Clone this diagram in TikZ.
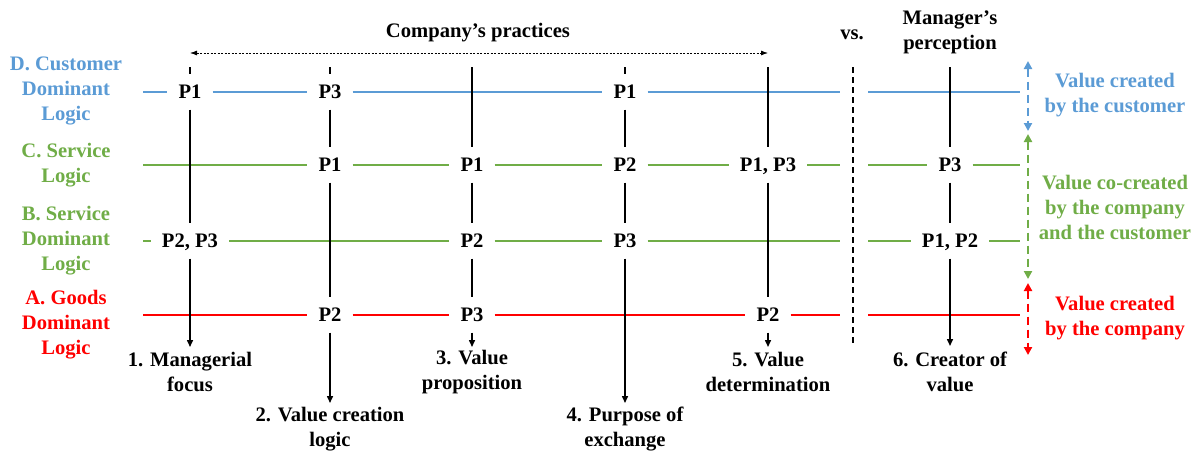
\documentclass[tikz,border=0pt]{standalone}
\usepackage{fontspec}
\setmainfont{LiberationSerif}[Extension=.ttf,UprightFont=*-Regular,BoldFont=*-Bold,ItalicFont=*-Italic,BoldItalicFont=*-BoldItalic]
\usetikzlibrary{arrows.meta}
\definecolor{cdlblue}{RGB}{91,155,213}
\definecolor{slgreen}{RGB}{112,173,71}
\definecolor{gdlred}{RGB}{255,0,0}
\tikzset{
  lbl/.style={font=\fontsize{20.6}{25}\selectfont\bfseries,align=center,inner sep=0pt},
  pbox/.style={font=\fontsize{20.6}{25}\selectfont\bfseries,inner xsep=11pt,inner ysep=0pt,minimum height=35pt,text depth=0pt},
  rowline/.style={line width=2pt},
  colline/.style={line width=1.5pt},
  colarrow/.style={colline,-{Triangle[length=7pt,width=6pt]}},
  sidearrow/.style={line width=2.5pt,dash pattern=on 8pt off 5pt,{Triangle[length=8pt,width=8pt]}-{Triangle[length=8pt,width=8pt]}}
}
\begin{document}
\begin{tikzpicture}[x=1pt,y=-1pt]
\useasboundingbox (0,0) rectangle (1199,455);

% row labels
\node[lbl,text=cdlblue] (labD) at (66,91) {D. Customer\\Dominant\\Logic};
\node[lbl,text=slgreen] (labC) at (66,165) {C. Service\\Logic};
\node[lbl,text=slgreen] (labB) at (66,241) {B. Service\\Dominant\\Logic};
\node[lbl,text=gdlred] (labA) at (66,325) {A. Goods\\Dominant\\Logic};

% P boxes
\node[pbox] (D1) at (190,92) {P1};
\node[pbox] (D2) at (330,92) {P3};
\node[pbox] (D4) at (625,92) {P1};
\node[pbox] (C2) at (330,165) {P1};
\node[pbox] (C3) at (472,165) {P1};
\node[pbox] (C4) at (625,165) {P2};
\node[pbox] (C5) at (768,165) {P1, P3};
\node[pbox] (C6) at (950,165) {P3};
\node[pbox] (B1) at (190,241) {P2, P3};
\node[pbox] (B3) at (472,241) {P2};
\node[pbox] (B4) at (625,241) {P3};
\node[pbox] (B6) at (950,241) {P1, P2};
\node[pbox] (A2) at (330,315) {P2};
\node[pbox] (A3) at (472,315) {P3};
\node[pbox] (A5) at (768,315) {P2};

% row lines
\coordinate (Ds) at (143,92);  \coordinate (Dg) at (840,92);  \coordinate (Dh) at (868,92);  \coordinate (De) at (1020,92);
\coordinate (Cs) at (143,165); \coordinate (Cg) at (840,165); \coordinate (Ch) at (868,165); \coordinate (Ce) at (1020,165);
\coordinate (Bs) at (143,241); \coordinate (Bg) at (840,241); \coordinate (Bh) at (868,241); \coordinate (Be) at (1020,241);
\coordinate (As) at (143,315); \coordinate (Ag) at (840,315); \coordinate (Ah) at (868,315); \coordinate (Ae) at (1020,315);
\draw[rowline,cdlblue] (Ds) -- (D1) -- (D2) -- (D4) -- (Dg);
\draw[rowline,cdlblue] (Dh) -- (De);
\draw[rowline,slgreen] (Cs) -- (C2) -- (C3) -- (C4) -- (C5) -- (Cg);
\draw[rowline,slgreen] (Ch) -- (C6) -- (Ce);
\draw[rowline,slgreen] (Bs) -- (B1) -- (B3) -- (B4) -- (Bg);
\draw[rowline,slgreen] (Bh) -- (B6) -- (Be);
\draw[rowline,gdlred] (As) -- (A2) -- (A3) -- (A5) -- (Ag);
\draw[rowline,gdlred] (Ah) -- (Ae);

% columns
\coordinate (t1) at (190,67); \coordinate (e1) at (190,347);
\coordinate (t2) at (330,67); \coordinate (e2) at (330,403);
\coordinate (t3) at (472,67); \coordinate (e3) at (472,347);
\coordinate (t4) at (625,67); \coordinate (e4) at (625,403);
\coordinate (t5) at (768,67); \coordinate (e5) at (768,347);
\coordinate (t6) at (950,67); \coordinate (e6) at (950,346);
\draw[colline] (t1) -- (D1) -- (B1);
\draw[colarrow] (B1) -- (e1);
\draw[colline] (t2) -- (D2) -- (C2) -- (A2);
\draw[colarrow] (A2) -- (e2);
\draw[colline] (t3) -- (C3) -- (B3) -- (A3);
\draw[colarrow] (A3) -- (e3);
\draw[colline] (t4) -- (D4) -- (C4) -- (B4);
\draw[colarrow] (B4) -- (e4);
\draw[colline] (t5) -- (C5) -- (A5);
\draw[colarrow] (A5) -- (e5);
\draw[colline] (t6) -- (C6) -- (B6);
\draw[colarrow] (B6) -- (e6);

% vs. divider
\coordinate (vt) at (853,67); \coordinate (vb) at (853,345);
\draw[line width=1.6pt,dash pattern=on 6pt off 4pt] (vt) -- (vb);

% heading
\node[lbl] (comp) at (478,33) {Company’s practices};
\node[lbl] (vs) at (852,35) {vs.};
\node[lbl] (mgr) at (950,32) {Manager’s\\perception};
\coordinate (cpl) at (190,53); \coordinate (cpr) at (768,53);
\draw[line width=0.8pt,dash pattern=on 2pt off 1.5pt,{Latex[length=7pt,width=5pt]}-{Latex[length=7pt,width=5pt]}] (cpl) -- (cpr);

% column labels
\node[lbl] (l1) at (190,372) {1. Managerial\\focus};
\node[lbl] (l2) at (330,429) {2. Value creation\\logic};
\node[lbl] (l3) at (472,372) {3. Value\\proposition};
\node[lbl] (l4) at (625,429) {4. Purpose of\\exchange};
\node[lbl] (l5) at (768,372) {5. Value\\determination};
\node[lbl] (l6) at (950,372) {6. Creator of\\value};

% value creation side
\coordinate (bt) at (1028,61);  \coordinate (bb) at (1028,131);
\coordinate (gt) at (1028,134); \coordinate (gb) at (1028,279);
\coordinate (rt) at (1028,283); \coordinate (rb) at (1028,355);
\draw[sidearrow,cdlblue] (bt) -- (bb);
\draw[sidearrow,slgreen] (gt) -- (gb);
\draw[sidearrow,gdlred] (rt) -- (rb);
\node[lbl,text=cdlblue] (vD) at (1115,95) {Value created\\by the customer};
\node[lbl,text=slgreen] (vC) at (1115,207) {Value co-created\\by the company\\and the customer};
\node[lbl,text=gdlred] (vA) at (1115,318) {Value created\\by the company};
\end{tikzpicture}
\end{document}
